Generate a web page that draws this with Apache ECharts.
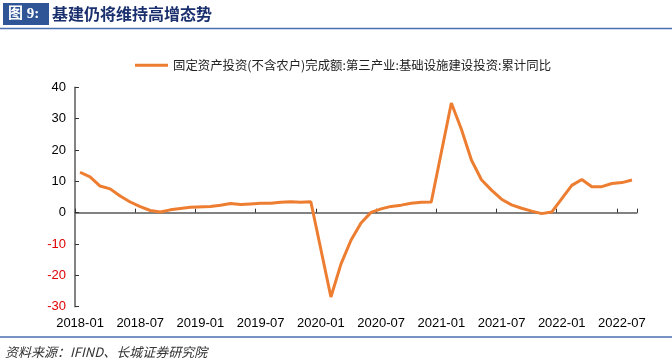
<!DOCTYPE html>
<html>
<head>
<meta charset="utf-8">
<script src="https://cdn.jsdelivr.net/npm/echarts@6/dist/echarts.min.js"></script>
<style>
html,body{margin:0;padding:0;background:#fff;}
#chart{width:672px;height:362px;}
</style>
</head>
<body>
<div id="chart"></div>
<script>
const months = [
 '2018-01','2018-02','2018-03','2018-04','2018-05','2018-06','2018-07','2018-08','2018-09','2018-10','2018-11','2018-12',
 '2019-01','2019-02','2019-03','2019-04','2019-05','2019-06','2019-07','2019-08','2019-09','2019-10','2019-11','2019-12',
 '2020-01','2020-02','2020-03','2020-04','2020-05','2020-06','2020-07','2020-08','2020-09','2020-10','2020-11','2020-12',
 '2021-01','2021-02','2021-03','2021-04','2021-05','2021-06','2021-07','2021-08','2021-09','2021-10','2021-11','2021-12',
 '2022-01','2022-02','2022-03','2022-04','2022-05','2022-06','2022-07','2022-08'
];
const infraYoY = [
 12.9, 11.4, 8.5, 7.6, 5.3, 3.4, 1.9, 0.7, 0.2, 0.9, 1.3, 1.7,
 null, 2.0, 2.4, 2.9, 2.6, 2.8, 3.0, 3.0, 3.3, 3.5, 3.3, 3.5,
 null, -26.9, -16.4, -8.8, -3.3, 0.1, 1.2, 2.0, 2.4, 3.0, 3.3, 3.4,
 null, 35.0, 26.6, 16.8, 10.5, 7.2, 4.3, 2.5, 1.4, 0.5, -0.3, 0.2,
 null, 8.7, 10.6, 8.3, 8.3, 9.3, 9.6, 10.4
];
const seriesName = '固定资产投资(不含农户)完成额:第三产业:基础设施建设投资:累计同比';
const titleTag = '图 9:';
const titleText = '基建仍将维持高增态势';
const sourceText = '资料来源：IFIND、长城证券研究院';

const chart = echarts.init(document.getElementById('chart'), null, {renderer:'canvas'});
const axisColor = '#5a5a5a';
chart.setOption({
  animation:false,
  backgroundColor:'#fff',
  graphic:[
    {type:'rect', shape:{x:3,y:3,width:46,height:22}, style:{fill:'#2f5597'}},
    {type:'text', style:{x:8,y:14,text:titleTag,fill:'#fff',font:'bold 15px "Liberation Serif","Noto Sans CJK SC"',verticalAlign:'middle'}},
    {type:'text', style:{x:52,y:14,text:titleText,fill:'#1a2f6e',font:'bold 16px "Noto Sans CJK SC"',verticalAlign:'middle'}},
    {type:'line', shape:{x1:0,y1:28.5,x2:672,y2:28.5}, style:{stroke:'#4a6fb0',lineWidth:1.5}},
    {type:'line', shape:{x1:0,y1:337,x2:672,y2:337}, style:{stroke:'#4a6fb0',lineWidth:1.5}},
    {type:'text', style:{x:5,y:352,text:sourceText,fill:'#333',font:'italic 13px "Noto Sans CJK SC"',verticalAlign:'middle'}}
  ],
  legend:{
    top:54, left:130,
    itemWidth:33, itemHeight:3, itemGap:10,
    icon:'rect',
    textStyle:{fontFamily:'"Noto Sans CJK SC"', fontSize:12.4, color:'#222'},
    data:[seriesName]
  },
  grid:{left:75, top:87.3, width:562, height:219.4, containLabel:false},
  xAxis:[
    {
      type:'category', data:months, boundaryGap:true, position:'bottom',
      axisLine:{show:false, onZero:false},
      axisTick:{show:false},
      axisLabel:{interval:5, color:'#000', fontFamily:'"Liberation Sans",Arial', fontSize:13, margin:10}
    },
    {
      type:'category', data:months, boundaryGap:true, position:'bottom',
      axisLine:{show:true, onZero:true, lineStyle:{color:axisColor, width:1.5}},
      axisTick:{show:true, inside:true, interval:5, length:4, lineStyle:{color:'#333', width:1}},
      axisLabel:{show:false}
    }
  ],
  yAxis:{
    type:'value', min:-30, max:40, interval:10,
    axisLine:{show:true, lineStyle:{color:axisColor, width:1.5}},
    axisTick:{show:true, inside:true, length:4, lineStyle:{color:'#333', width:1}},
    splitLine:{show:false},
    axisLabel:{
      margin:9, fontFamily:'"Liberation Sans",Arial', fontSize:13,
      color:function(v){ return Number(v) < 0 ? '#e00000' : '#000'; }
    }
  },
  series:[{
    name:seriesName, type:'line', xAxisIndex:0, data:infraYoY,
    connectNulls:true, symbol:'none', smooth:false,
    lineStyle:{color:'#ed7d31', width:3},
    itemStyle:{color:'#ed7d31'}
  }]
});
</script>
</body>
</html>
